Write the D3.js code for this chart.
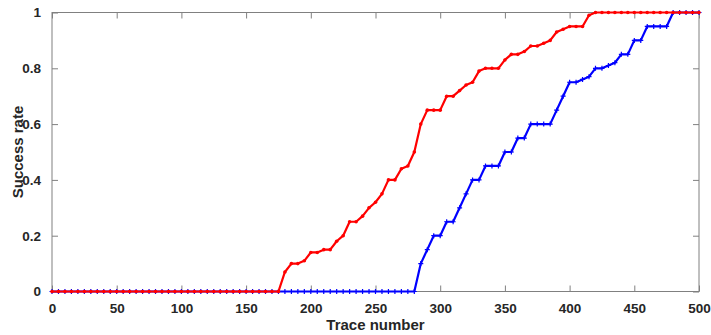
<!DOCTYPE html>
<html>
<head>
<meta charset="utf-8">
<script src="https://cdn.jsdelivr.net/npm/d3@7"></script>
<style>
  html, body { margin: 0; padding: 0; background: #fff; }
  svg { display: block; }
  text { font-family: "Liberation Sans", Arial, Helvetica, sans-serif; font-weight: bold; fill: #262626; }
</style>
</head>
<body>
<svg id="chart" width="711" height="335"></svg>
<script>
const traceNumbers = [0,5,10,15,20,25,30,35,40,45,50,55,60,65,70,75,80,85,90,95,100,105,110,115,120,125,130,135,140,145,150,155,160,165,170,175,180,185,190,195,200,205,210,215,220,225,230,235,240,245,250,255,260,265,270,275,280,285,290,295,300,305,310,315,320,325,330,335,340,345,350,355,360,365,370,375,380,385,390,395,400,405,410,415,420,425,430,435,440,445,450,455,460,465,470,475,480,485,490,495,500];

const redRate = [0,0,0,0,0,0,0,0,0,0,0,0,0,0,0,0,0,0,0,0,0,0,0,0,0,0,0,0,0,0,0,0,0,0,0,0,
  0.07,0.10,0.10,0.11,0.14,0.14,0.15,0.15,0.18,0.20,0.25,0.25,0.27,0.30,0.32,0.35,0.40,0.40,0.44,0.45,0.50,0.60,0.65,0.65,0.65,0.70,0.70,0.72,0.74,0.75,0.79,0.80,0.80,0.80,0.83,0.85,0.85,0.86,0.88,0.88,0.89,0.90,0.93,0.94,0.95,0.95,0.95,0.99,
  1,1,1,1,1,1,1,1,1,1,1,1,1,1,1,1,1];

const blueRate = [0,0,0,0,0,0,0,0,0,0,0,0,0,0,0,0,0,0,0,0,0,0,0,0,0,0,0,0,0,0,0,0,0,0,0,0,0,0,0,0,0,0,0,0,0,0,0,0,0,0,0,0,0,0,0,0,0,
  0.10,0.15,0.20,0.20,0.25,0.25,0.30,0.35,0.40,0.40,0.45,0.45,0.45,0.50,0.50,0.55,0.55,0.60,0.60,0.60,0.60,0.65,0.70,0.75,0.75,0.76,0.77,0.80,0.80,0.81,0.82,0.85,0.85,0.90,0.90,0.95,0.95,0.95,0.95,
  1,1,1,1,1];

const xTicks = [0,50,100,150,200,250,300,350,400,450,500];
const yTicks = [0,0.2,0.4,0.6,0.8,1];
const yTickLabels = ["0","0.2","0.4","0.6","0.8","1"];
const xLabel = "Trace number";
const yLabel = "Success rate";

const svg = d3.select("#chart");
const L = 52, R = 699, T = 12.5, B = 291.5;
const x = d3.scaleLinear().domain([0, 500]).range([L, R]);
const y = d3.scaleLinear().domain([0, 1]).range([B, T]);
const axisColor = "#808080";
const tickLen = 6;

function styleAxis(g, hideText) {
  g.select(".domain").remove();
  g.selectAll(".tick line").attr("stroke", axisColor).attr("stroke-width", 1);
  g.selectAll(".tick text").style("font-size", "13.5px").attr("fill", "#262626");
  if (hideText) g.selectAll(".tick text").remove();
}
svg.append("g").attr("transform", `translate(0,${B})`)
  .call(d3.axisBottom(x).tickValues(xTicks).tickSizeInner(-tickLen).tickSizeOuter(0).tickPadding(12).tickFormat(d3.format("d")))
  .call(g => styleAxis(g, false));
svg.append("g").attr("transform", `translate(0,${T})`)
  .call(d3.axisTop(x).tickValues(xTicks).tickSizeInner(-tickLen).tickSizeOuter(0))
  .call(g => styleAxis(g, true));
svg.append("g").attr("transform", `translate(${L},0)`)
  .call(d3.axisLeft(y).tickValues(yTicks).tickSizeInner(-tickLen).tickSizeOuter(0).tickPadding(11).tickFormat((d, i) => yTickLabels[i]))
  .call(g => styleAxis(g, false));
svg.append("g").attr("transform", `translate(${R},0)`)
  .call(d3.axisRight(y).tickValues(yTicks).tickSizeInner(-tickLen).tickSizeOuter(0))
  .call(g => styleAxis(g, true));

svg.append("rect").attr("x", L).attr("y", T).attr("width", R - L).attr("height", B - T)
  .attr("fill", "none").attr("stroke", axisColor).attr("stroke-width", 1);

svg.append("text").attr("x", (L + R) / 2).attr("y", 330).attr("text-anchor", "middle")
  .style("font-size", "15px").text(xLabel);
svg.append("text").attr("transform", `translate(23,${(T + B) / 2}) rotate(-90)`).attr("text-anchor", "middle")
  .style("font-size", "15px").text(yLabel);

const series = [
  { values: blueRate, color: "#0000ff", marker: "plus" },
  { values: redRate, color: "#ff0000", marker: "dot" }
];
const line = d3.line().x(d => x(d[0])).y(d => y(d[1]));
series.forEach(s => {
  const pts = traceNumbers.map((t, i) => [t, s.values[i]]);
  svg.append("path").datum(pts).attr("d", line)
    .attr("fill", "none").attr("stroke", s.color).attr("stroke-width", 2.2)
    .attr("stroke-linejoin", "round");
  const g = svg.append("g");
  if (s.marker === "plus") {
    g.selectAll("path").data(pts).join("path")
      .attr("d", d => `M${x(d[0]) - 2.5},${y(d[1])}h5M${x(d[0])},${y(d[1]) - 2.5}v5`)
      .attr("stroke", s.color).attr("stroke-width", 1.2);
  } else {
    g.selectAll("circle").data(pts).join("circle")
      .attr("cx", d => x(d[0])).attr("cy", d => y(d[1])).attr("r", 1.8)
      .attr("fill", s.color);
  }
});
</script>
</body>
</html>
